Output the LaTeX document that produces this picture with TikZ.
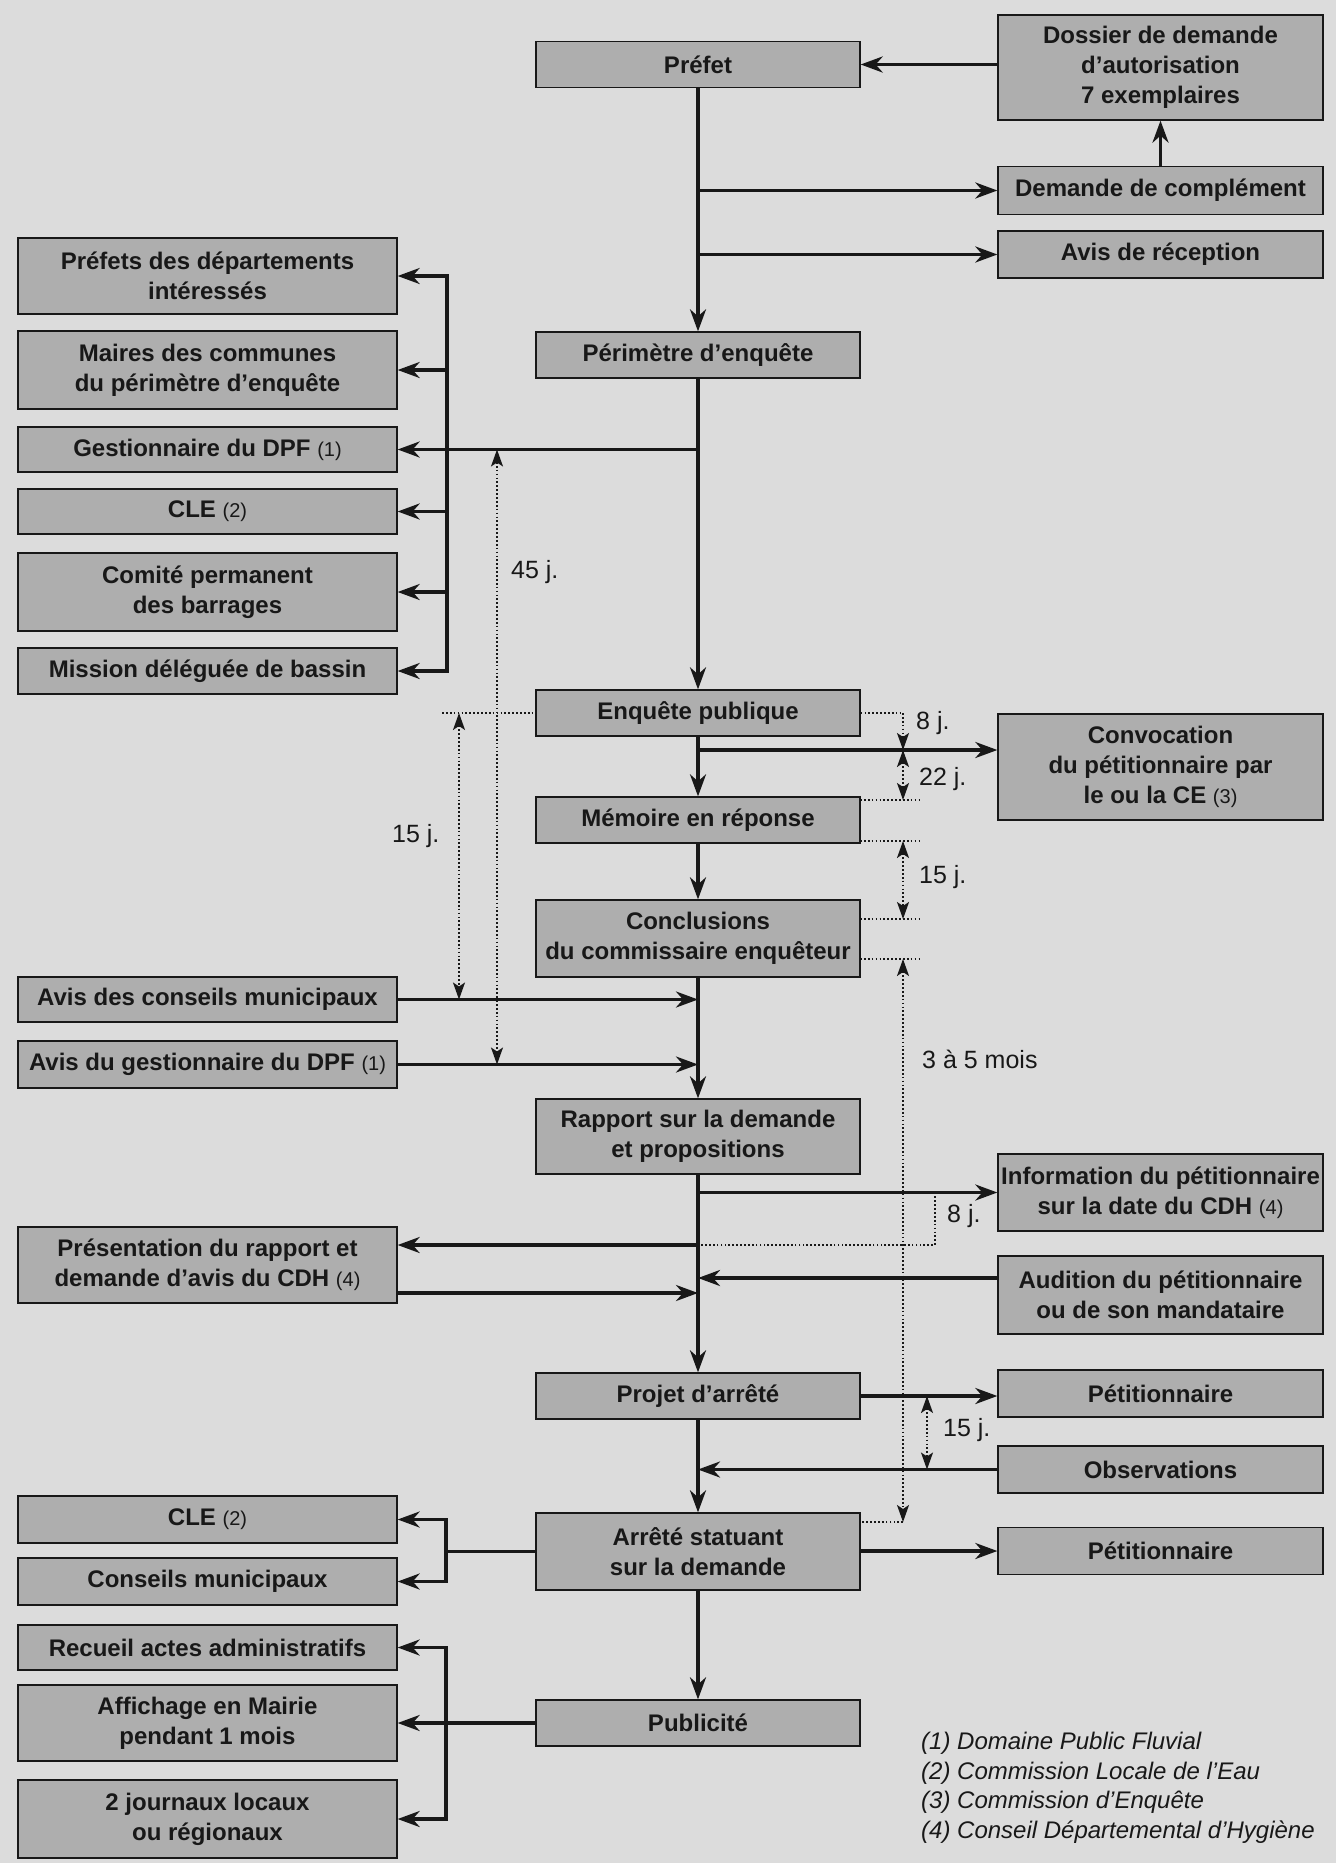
\documentclass[tikz,border=0pt]{standalone}
\usepackage{fontspec}
\setmainfont{Liberation Sans}
\usetikzlibrary{arrows.meta}
\definecolor{bg}{RGB}{220,220,220}
\definecolor{boxfill}{RGB}{174,174,174}
\definecolor{ink}{RGB}{24,24,24}
\newcommand{\nt}[1]{{\mdseries\fontsize{20}{24}\selectfont #1}}
\begin{document}
\begin{tikzpicture}[x=1pt,y=-1pt,
  box/.style={draw=ink, line width=1.3pt, fill=boxfill, text=ink, align=center,
    font=\bfseries\fontsize{24}{30}\selectfont, inner sep=0pt, minimum height=46pt},
  cbox/.style={box, minimum width=324pt},
  lbox/.style={box, minimum width=379pt},
  rbox/.style={box, minimum width=325pt},
  conn/.style={draw=ink, line width=3.4pt},
  arr/.style={conn, -{Stealth[length=22pt,width=16pt,inset=7pt]}},
  dots/.style={draw=ink, line width=1.7pt, dash pattern=on 1.7pt off 2.2pt},
  darr/.style={dots, {Stealth[length=17pt,width=12pt,inset=4pt]}-{Stealth[length=17pt,width=12pt,inset=4pt]}},
  darrd/.style={dots, -{Stealth[length=17pt,width=12pt,inset=4pt]}},
  lab/.style={font=\fontsize{25}{28}\selectfont, text=ink, inner sep=0pt, anchor=west},
  legend/.style={font=\itshape\fontsize{24}{29.5}\selectfont, text=ink, inner sep=0pt, align=left}
]
\useasboundingbox (0,0) rectangle (1336,1863);
\fill[bg] (0,0) rectangle (1336,1863);

% centre column
\node[cbox] (prefet) at (698,64.5) {Préfet};
\node[cbox] (perim) at (698,355) {Périmètre d’enquête};
\node[cbox] (enq) at (698,713) {Enquête publique};
\node[cbox] (mem) at (698,820) {Mémoire en réponse};
\node[cbox, minimum height=77pt] (concl) at (698,938.5) {Conclusions\\du commissaire enquêteur};
\node[cbox, minimum height=75pt] (rapport) at (698,1136.5) {Rapport sur la demande\\et propositions};
\node[cbox] (projet) at (698,1396) {Projet d’arrêté};
\node[cbox, minimum height=77pt] (arrete) at (698,1551.5) {Arrêté statuant\\sur la demande};
\node[cbox] (pub) at (698,1723) {Publicité};

% right column
\node[rbox, minimum height=105pt] (dossier) at (1160.5,67.5) {Dossier de demande\\d’autorisation\\7 exemplaires};
\node[rbox, minimum height=48pt] (dcompl) at (1160.5,190.5) {Demande de complément};
\node[rbox, minimum height=47pt] (avisrec) at (1160.5,254.5) {Avis de réception};
\node[rbox, minimum height=106pt] (convoc) at (1160.5,767) {Convocation\\du pétitionnaire par\\le ou la CE \nt{(3)}};
\node[rbox, minimum height=77pt] (info) at (1160.5,1192.5) {Information du pétitionnaire\\sur la date du CDH \nt{(4)}};
\node[rbox, minimum height=78pt] (audition) at (1160.5,1295) {Audition du pétitionnaire\\ou de son mandataire};
\node[rbox, minimum height=47pt] (pet1) at (1160.5,1393.5) {Pétitionnaire};
\node[rbox, minimum height=47pt] (obs) at (1160.5,1469.5) {Observations};
\node[rbox, minimum height=47pt] (pet2) at (1160.5,1551) {Pétitionnaire};

% left column
\node[lbox, minimum height=76pt] (prefets) at (207.5,276) {Préfets des départements\\intéressés};
\node[lbox, minimum height=78pt] (maires) at (207.5,370) {Maires des communes\\du périmètre d’enquête};
\node[lbox, minimum height=45pt] (gest) at (207.5,449.5) {Gestionnaire du DPF \nt{(1)}};
\node[lbox, minimum height=45pt] (cle1) at (207.5,511.5) {CLE \nt{(2)}};
\node[lbox, minimum height=78pt] (comite) at (207.5,592) {Comité permanent\\des barrages};
\node[lbox] (mission) at (207.5,671) {Mission déléguée de bassin};
\node[lbox, minimum height=45pt] (avisconseils) at (207.5,999.5) {Avis des conseils municipaux};
\node[lbox, minimum height=47pt] (avisgest) at (207.5,1064.5) {Avis du gestionnaire du DPF \nt{(1)}};
\node[lbox, minimum height=76pt] (present) at (207.5,1265) {Présentation du rapport et\\demande d’avis du CDH \nt{(4)}};
\node[lbox, minimum height=47pt] (cle2) at (207.5,1519.5) {CLE \nt{(2)}};
\node[lbox, minimum height=47pt] (conseils) at (207.5,1581.5) {Conseils municipaux};
\node[lbox, minimum height=45pt] (recueil) at (207.5,1647.5) {Recueil actes administratifs};
\node[lbox, minimum height=76pt] (affichage) at (207.5,1723) {Affichage en Mairie\\pendant 1 mois};
\node[lbox, minimum height=78pt] (journaux) at (207.5,1819) {2 journaux locaux\\ou régionaux};

% helper coordinates
\coordinate (busA) at (447,0);
\coordinate (busB) at (446,0);
\coordinate (tcol) at (903,0);

% top
\draw[arr] (dossier.west |- prefet.east) -- (prefet.east);
\draw[arr] (dcompl.north) -- (dossier.south);
\draw[arr] (prefet.south |- dcompl.west) -- (dcompl.west);
\draw[arr] (prefet.south |- avisrec.west) -- (avisrec.west);

% spine
\draw[arr] (prefet.south) -- (perim.north);
\draw[arr] (perim.south) -- (enq.north);
\draw[arr] (enq.south) -- (mem.north);
\draw[arr] (mem.south) -- (concl.north);
\draw[arr] (concl.south) -- (rapport.north);
\draw[arr] (rapport.south) -- (projet.north);
\draw[arr] (projet.south) -- (arrete.north);
\draw[arr] (arrete.south) -- (pub.north);

% left distribution from perimetre
\draw[arr] (perim.south |- gest.east) -- (gest.east);
\draw[arr] (busA |- gest.east) -- (busA |- prefets.east) -- (prefets.east);
\draw[arr] (busA |- gest.east) -- (busA |- mission.east) -- (mission.east);
\draw[arr] (busA |- maires.east) -- (maires.east);
\draw[arr] (busA |- cle1.east) -- (cle1.east);
\draw[arr] (busA |- comite.east) -- (comite.east);

% enquete branch
\coordinate (cvy) at (0,750);
\draw[arr] (enq.south |- cvy) -- (convoc.west |- cvy);

% avis arrows into spine
\draw[arr] (avisconseils.east) -- (concl.south |- avisconseils.east);
\draw[arr] (avisgest.east) -- (concl.south |- avisgest.east);

% rapport branches
\draw[arr] (rapport.south |- info.west) -- (info.west);
\draw[arr] (rapport.south |- 0,1245) -- ([yshift=20pt]present.east);
\draw[arr] ([yshift=-28pt]present.east) -- (rapport.south |- 0,1293);
\draw[arr] ([yshift=17pt]audition.west) -- (rapport.south |- 0,1278);

% projet / arrete branches
\draw[arr] (projet.east) -- (pet1.west |- projet.east);
\draw[arr] (obs.west) -- (projet.south |- obs.west);
\draw[arr] (arrete.east |- pet2.west) -- (pet2.west);

\draw[conn] (arrete.west) -- (busB |- arrete.west);
\draw[arr] (busB |- arrete.west) -- (busB |- cle2.east) -- (cle2.east);
\draw[arr] (busB |- arrete.west) -- (busB |- conseils.east) -- (conseils.east);

\draw[arr] (pub.west) -- (affichage.east);
\draw[arr] (busB |- pub.west) -- (busB |- recueil.east) -- (recueil.east);
\draw[arr] (busB |- pub.west) -- (busB |- journaux.east) -- (journaux.east);

% timing: left
\draw[darr] (497,449.5) -- (497,1064.5);
\node[lab] (l45) at (511,572) {45 j.};
\draw[dots] (442,713) -- (enq.west);
\draw[darr] (459,713) -- (459,999.5);
\node[lab] (l15a) at (392,836) {15 j.};

% timing: right of enquete
\draw[dots] (enq.east) -- (tcol |- enq.east);
\draw[darrd] (tcol |- enq.east) -- (tcol |- cvy);
\node[lab] (l8a) at (916,723) {8 j.};
\draw[darr] (tcol |- cvy) -- (903,800);
\node[lab] (l22) at (919,779) {22 j.};
\draw[dots] (860,800) -- (922,800);
\draw[dots] (860,841) -- (922,841);
\draw[darr] (903,841) -- (903,919);
\node[lab] (l15b) at (919,877) {15 j.};
\draw[dots] (860,919) -- (922,919);
\draw[dots] (860,959) -- (922,959);
\draw[darr] (903,959) -- (903,1522);
\draw[dots] (903,1522) -- (arrete.east |- 0,1522);
\node[lab] (l35) at (922,1059) {3 à 5 mois};

% timing: rapport
\draw[dots] (935,1192.5) -- (935,1245) -- (rapport.south |- 0,1245);
\node[lab] (l8b) at (947,1216) {8 j.};

% timing: projet
\draw[darr] (927,1396) -- (927,1469.5);
\node[lab] (l15c) at (943,1430) {15 j.};

% legend
\node[legend, anchor=north west] (leg) at (921,1732) {(1) Domaine Public Fluvial\\(2) Commission Locale de l’Eau\\(3) Commission d’Enquête\\(4) Conseil Départemental d’Hygiène};
\end{tikzpicture}
\end{document}
